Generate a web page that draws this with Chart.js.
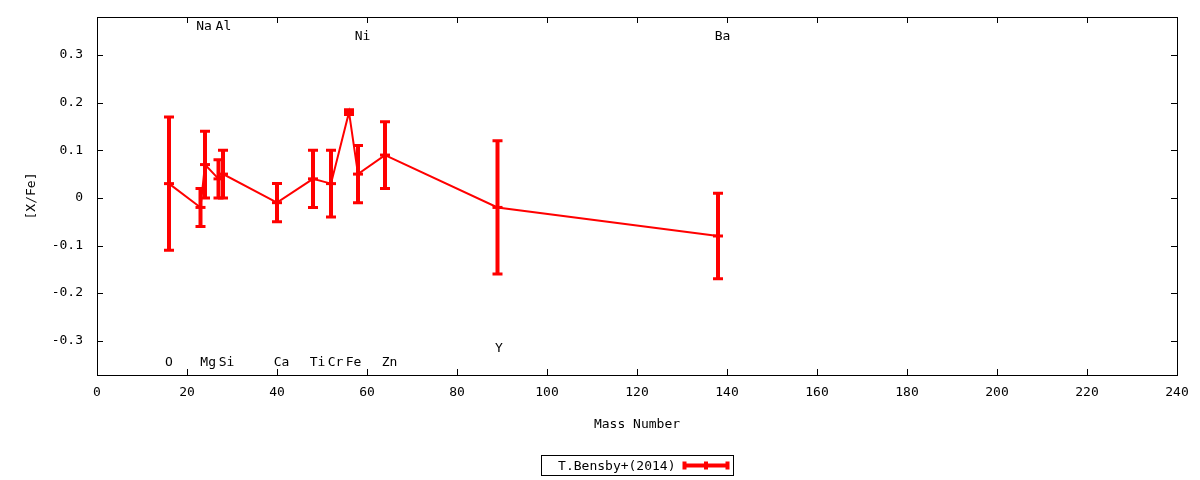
<!DOCTYPE html>
<html>
<head>
<meta charset="utf-8">
<title>[X/Fe] vs Mass Number</title>
<script src="https://cdn.jsdelivr.net/npm/chart.js@4/dist/chart.umd.min.js"></script>
<style>
  html, body { margin: 0; padding: 0; background: #fff; }
  #wrap { width: 1200px; height: 480px; }
</style>
</head>
<body>
<div id="wrap"><canvas id="abundChart" width="1200" height="480"></canvas></div>
<script>
  // Abundance data
  const elements    = ['O', 'Na', 'Mg', 'Al', 'Si', 'Ca', 'Ti', 'Cr', 'Fe', 'Ni', 'Zn', 'Y', 'Ba'];
  const massNumbers = [16, 23, 24, 27, 28, 40, 48, 52, 56, 58, 64, 89, 138];
  const xFe         = [0.03, -0.02, 0.07, 0.04, 0.05, -0.01, 0.04, 0.03, 0.18, 0.05, 0.09, -0.02, -0.08];
  const xFeErr      = [0.14, 0.04, 0.07, 0.04, 0.05, 0.04, 0.06, 0.07, 0.005, 0.06, 0.07, 0.14, 0.09];

  // where each element name sits (data units)
  const labelMass   = [16, 23.8, 24.7, 28.1, 28.8, 41, 49, 53, 57, 59, 65, 89.3, 139];
  const labelLevel  = [-0.346, 0.359, -0.346, 0.359, -0.346, -0.346, -0.346, -0.346, -0.346, 0.338, -0.346, -0.317, 0.338];

  const xTicks = [0, 240, 20];     // min, max, step
  const yTicks = [-0.372, 0.38, 0.1];
  const seriesName = 'T.Bensby+(2014)';

  const RED = '#ff0000';
  const FONT = "'DejaVu Sans Mono', monospace";

  Chart.defaults.font.family = FONT;
  Chart.defaults.font.size = 13;
  Chart.defaults.color = '#000';

  /*
  | error bars, element labels, frame with inward ticks, legend box
  */
  const gnuplotLook = {
    id: 'gnuplotLook',
    afterDatasetsDraw(chart) {
      const {ctx, scales: {x, y}} = chart;
      ctx.save();
      ctx.strokeStyle = RED;
      ctx.lineCap = 'butt';
      massNumbers.forEach((m, i) => {
        const px = x.getPixelForValue(m);
        const hi = y.getPixelForValue(xFe[i] + xFeErr[i]);
        const lo = y.getPixelForValue(xFe[i] - xFeErr[i]);
        ctx.lineWidth = 4;
        ctx.beginPath();
        ctx.moveTo(px, hi); ctx.lineTo(px, lo);
        ctx.stroke();
        ctx.lineWidth = 3;
        ctx.beginPath();
        ctx.moveTo(px - 5, hi); ctx.lineTo(px + 5, hi);
        ctx.moveTo(px - 5, lo); ctx.lineTo(px + 5, lo);
        ctx.stroke();
      });

      // element names
      ctx.fillStyle = '#000';
      ctx.font = '13px ' + FONT;
      ctx.textAlign = 'center';
      ctx.textBaseline = 'middle';
      elements.forEach((el, i) => {
        ctx.fillText(el, x.getPixelForValue(labelMass[i]), y.getPixelForValue(labelLevel[i]));
      });
      ctx.restore();
    },
    afterDraw(chart) {
      const {ctx, chartArea: a, scales: {x, y}} = chart;
      ctx.save();
      ctx.strokeStyle = '#000';
      ctx.lineWidth = 1;
      ctx.strokeRect(a.left + 0.5, a.top + 0.5, a.right - a.left, a.bottom - a.top);

      const t = 6;
      ctx.beginPath();
      x.ticks.forEach(tk => {
        const px = Math.round(x.getPixelForValue(tk.value)) + 0.5;
        ctx.moveTo(px, a.bottom); ctx.lineTo(px, a.bottom - t);
        ctx.moveTo(px, a.top); ctx.lineTo(px, a.top + t);
      });
      y.ticks.forEach(tk => {
        const py = Math.round(y.getPixelForValue(tk.value)) + 0.5;
        ctx.moveTo(a.left, py); ctx.lineTo(a.left + t, py);
        ctx.moveTo(a.right, py); ctx.lineTo(a.right - t, py);
      });
      ctx.stroke();

      // legend
      const cx = (a.left + a.right) / 2;
      const bw = 192, bh = 20;
      const bx = Math.round(cx - bw / 2) + 0.5, by = 455.5;
      ctx.strokeRect(bx, by, bw, bh);
      ctx.fillStyle = '#000';
      ctx.font = '13px ' + FONT;
      ctx.textAlign = 'right';
      ctx.textBaseline = 'middle';
      ctx.fillText(seriesName, bx + 134, by + bh / 2 + 1);

      const sx0 = bx + 143, sx1 = bx + 186, sy = by + bh / 2;
      ctx.strokeStyle = RED;
      ctx.lineWidth = 4;
      ctx.beginPath();
      ctx.moveTo(sx0, sy); ctx.lineTo(sx1, sy);
      [sx0, (sx0 + sx1) / 2, sx1].forEach(sx => {
        ctx.moveTo(sx, sy - 4); ctx.lineTo(sx, sy + 4);
      });
      ctx.stroke();
      ctx.restore();
    }
  };

  const ctxAbund = document.getElementById('abundChart');
  new Chart(ctxAbund, {
    type: 'line',
    data: {
      datasets: [{
        label: seriesName,
        data: massNumbers.map((m, i) => ({x: m, y: xFe[i]})),
        borderColor: RED,
        borderWidth: 2,
        fill: false,
        tension: 0,
        pointStyle: 'line',
        pointRadius: 5,
        pointBorderWidth: 3,
        pointBorderColor: RED,
        pointBackgroundColor: RED
      }]
    },
    options: {
      responsive: false,
      animation: false,
      devicePixelRatio: 1,
      layout: { padding: { top: 17, right: 23, left: 0, bottom: 0 } },
      plugins: { legend: { display: false }, tooltip: { enabled: false } },
      scales: {
        x: {
          type: 'linear',
          min: xTicks[0],
          max: xTicks[1],
          grid: { display: false, drawTicks: false },
          border: { display: false },
          ticks: { stepSize: xTicks[2], padding: 10, maxRotation: 0 },
          title: { display: true, text: 'Mass Number', padding: { top: 0, bottom: 48 } },
          afterFit(scale) { scale.height = 105; }
        },
        y: {
          min: yTicks[0],
          max: yTicks[1],
          grid: { display: false, drawTicks: false },
          border: { display: false },
          ticks: {
            stepSize: yTicks[2],
            includeBounds: false,
            padding: 14,
            callback: v => (Math.abs(v) < 1e-9 ? '0' : (Math.round(v * 10) / 10).toFixed(1))
          },
          title: { display: true, text: '[X/Fe]', padding: { top: 24, bottom: 0 } },
          afterFit(scale) {
            scale.width = 97;
            scale.paddingTop = 0;
            scale.paddingBottom = 0;
          }
        }
      }
    },
    plugins: [gnuplotLook]
  });
</script>
</body>
</html>
